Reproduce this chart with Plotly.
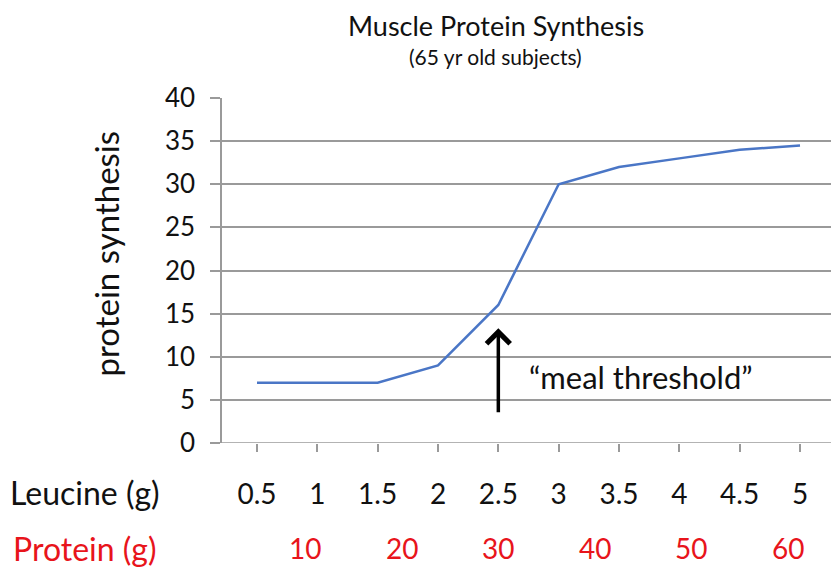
import plotly.graph_objects as go

leucine = [0.5, 1, 1.5, 2, 2.5, 3, 3.5, 4, 4.5, 5]
leucine_labels = ["0.5", "1", "1.5", "2", "2.5", "3", "3.5", "4", "4.5", "5"]
synthesis = [7, 7, 7, 9, 16, 30, 32, 33, 34, 34.5]
protein_labels = ["10", "20", "30", "40", "50", "60"]
protein_pos = [0.9, 1.7, 2.5, 3.3, 4.1, 4.9]
y_ticks = [0, 5, 10, 15, 20, 25, 30, 35, 40]

FONT = "Lato"
GRID = "#9a9a9a"

fig = go.Figure()
fig.add_trace(go.Scatter(x=leucine, y=synthesis, mode="lines",
                         line=dict(color="#4a76c6", width=2.5),
                         showlegend=False, hoverinfo="skip"))

annotations = [
    dict(text="Muscle Protein Synthesis", xref="paper", yref="paper",
         x=0.5, y=1, xanchor="center", yanchor="middle", showarrow=False,
         font=dict(family=FONT, size=27, color="#111"), xshift=-33, yshift=73),
    dict(text="(65 yr old subjects)", xref="paper", yref="paper",
         x=0.5, y=1, xanchor="center", yanchor="middle", showarrow=False,
         font=dict(family=FONT, size=21, color="#111"), xshift=-33, yshift=42),
    dict(text="protein synthesis", xref="paper", yref="paper", x=0, y=0.5,
         xanchor="center", yanchor="middle", textangle=-90, showarrow=False,
         font=dict(family=FONT, size=33, color="#111"), xshift=-117, yshift=17),
    dict(text="Leucine (g)", xref="paper", yref="paper", x=0, y=0,
         xanchor="center", yanchor="middle", showarrow=False,
         font=dict(family=FONT, size=32, color="#111"), xshift=-137, yshift=-49),
    dict(text="Protein (g)", xref="paper", yref="paper", x=0, y=0,
         xanchor="center", yanchor="middle", showarrow=False,
         font=dict(family=FONT, size=32, color="#e8141b"), xshift=-137, yshift=-105),
    dict(text="\u201cmeal threshold\u201d", xref="x", yref="y", x=2.74, y=7.6,
         xanchor="left", yanchor="middle", showarrow=False,
         font=dict(family=FONT, size=31, color="#111")),
    dict(x=2.5, y=13.3, ax=2.5, ay=3.4, xref="x", yref="y", axref="x", ayref="y",
         showarrow=True, arrowhead=4, arrowsize=1.3, arrowwidth=3.5,
         arrowcolor="#000", text=""),
]
for lbl, pos in zip(protein_labels, protein_pos):
    annotations.append(dict(text=lbl, xref="x", yref="paper", x=pos, y=0,
                            xanchor="center", yanchor="middle", showarrow=False,
                            font=dict(family=FONT, size=28, color="#e8141b"),
                            yshift=-105))

fig.update_layout(
    width=839, height=571,
    margin=dict(l=214, r=12, t=90, b=136),
    paper_bgcolor="white", plot_bgcolor="white",
    font=dict(family=FONT, color="#111"),
    annotations=annotations,
    xaxis=dict(range=[0.21, 5.29], tickvals=leucine, ticktext=leucine_labels,
               showgrid=False, zeroline=False, showline=False,
               ticks="outside", ticklen=8, tickcolor=GRID, tickwidth=1.5,
               ticklabelstandoff=18, tickfont=dict(family=FONT, size=28, color="#111")),
    yaxis=dict(range=[0, 40], tickvals=y_ticks, showgrid=True, gridcolor=GRID,
               gridwidth=1.5, zeroline=False, showline=True, linecolor=GRID,
               linewidth=1.5, ticks="outside", ticklen=10, tickcolor=GRID,
               tickwidth=1.5, ticklabelstandoff=10,
               tickfont=dict(family=FONT, size=26, color="#111")),
)
fig.add_shape(type="line", xref="paper", yref="y", x0=-0.018, x1=1, y0=0, y1=0,
              line=dict(color=GRID, width=1.5))

fig.write_html("out.html")
